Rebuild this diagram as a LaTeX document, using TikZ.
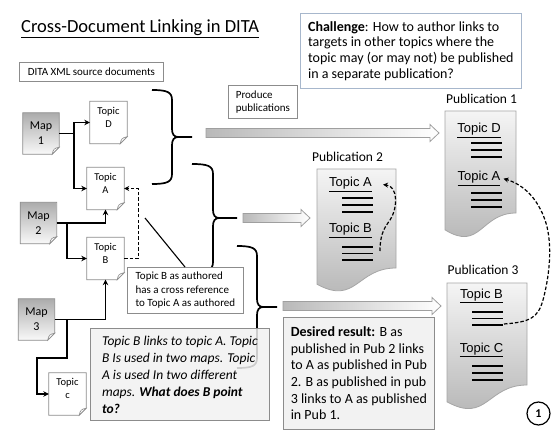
\documentclass[tikz,border=0pt]{standalone}
\usepackage{fontspec}
\setmainfont{Carlito}
\newfontfamily\arialf{Liberation Sans}
\usetikzlibrary{arrows.meta}
\pgfdeclarelayer{background}
\pgfsetlayers{background,main}
\definecolor{bordergray}{HTML}{8C8C8C}
\definecolor{chalblue}{HTML}{A7B7CC}
\definecolor{boxfill}{HTML}{F2F2F2}
\tikzset{
 plainbox/.style={draw=bordergray, line width=0.8pt, fill=white, anchor=north west, inner sep=0pt, align=left},
 mapnode/.style={minimum width=36pt, minimum height=41pt, inner sep=0pt, align=center, font=\fontsize{12}{15}\selectfont},
 topicnode/.style={minimum width=37pt, minimum height=42pt, inner sep=0pt, align=center, font=\fontsize{10.5}{13}\selectfont},
 mapfill/.style={draw=bordergray, line width=0.8pt, top color=gray!65, bottom color=gray!5},
 topicfill/.style={draw=bordergray, line width=0.8pt, fill=white},
 flap/.style={draw=bordergray, line width=0.6pt, fill=white},
 conn/.style={line width=1.6pt, -{Stealth[length=5.5pt,width=5.5pt]}},
 dashconn/.style={line width=1.2pt, dash pattern=on 3.5pt off 2pt, -{Stealth[length=5pt,width=5pt]}},
 bracestyle/.style={line width=1.7pt},
 blockarrow/.style={draw=gray!75, line width=0.8pt, left color=gray!55, right color=white},
 pubshape/.style={draw=gray!70, line width=0.8pt, top color=gray!8, bottom color=gray!60},
 publabel/.style={font=\fontsize{13.5}{16}\selectfont, anchor=base, inner sep=0pt},
 ptopic/.style={font=\arialf\fontsize{13}{15}\selectfont, anchor=base, inner sep=0pt},
 plines/.style={line width=1.4pt},
}
\newcommand\dogear[2]{%
 \begin{pgfonlayer}{background}
 \path[#2] (#1.north west) -- (#1.north east) -- ([yshift=7pt]#1.south east) -- ([xshift=-7pt]#1.south east) -- (#1.south west) -- cycle;
 \path[flap] ([yshift=7pt]#1.south east) .. controls ([xshift=-5pt,yshift=6pt]#1.south east) and ([xshift=-6pt,yshift=5pt]#1.south east) .. ([xshift=-7pt]#1.south east) -- cycle;
 \end{pgfonlayer}}
\newcommand\curlyR[6]{% xend xmid xtip ytop ytip ybot
 \draw[bracestyle] (#1,#4) .. controls (#2-5,#4) and (#2,#4+2) .. (#2,#4+10) -- (#2,#5-8) .. controls (#2,#5-3) and (#2+2,#5) .. (#2+6,#5) -- (#3,#5)
   (#2+6,#5) .. controls (#2+2,#5) and (#2,#5+3) .. (#2,#5+8) -- (#2,#6-10) .. controls (#2,#6-2) and (#2-5,#6) .. (#1,#6);}
\newcommand\blockarr[3]{% xstart xend y
 \path[blockarrow] (#1,#3-4.5) -- (#2-9,#3-4.5) -- (#2-9,#3-8.5) -- (#2,#3) -- (#2-9,#3+8.5) -- (#2-9,#3+4.5) -- (#1,#3+4.5) -- cycle;}
\newcommand\pubdoc[5]{% x1 top x2 yR h
 \pgfmathsetmacro\pbL{#2+0.934*#5}%
 \pgfmathsetmacro\pbC{#2+1.1075*#5}%
 \pgfmathsetmacro\pbM{(#1+#3)/2}%
 \path[pubshape] (#1,#2) -- (#3,#2) -- (#3,#4) .. controls (\pbM,#4) and (\pbM,\pbC) .. (#1,\pbL) -- cycle;}
\newcommand\threelines[4]{% x1 x2 y1 gap
 \draw[plines] (#1,#3) -- (#2,#3) (#1,#3+#4) -- (#2,#3+#4) (#1,#3+2*#4) -- (#2,#3+2*#4);}
\begin{document}
\begin{tikzpicture}[x=1pt,y=-1pt]
\begin{pgfonlayer}{background}
\fill[white] (0,0) rectangle (560,433);
\end{pgfonlayer}
\useasboundingbox (0,0) rectangle (560,433);

% title
\node[anchor=base west, inner sep=0pt, font=\fontsize{18.5}{20}\selectfont] (title) at (21,33) {\underline{Cross-Document Linking in DITA}};

% boxes
\node[plainbox, minimum width=144pt, minimum height=19pt, align=center, font=\fontsize{11}{13}\selectfont] (src) at (19,62) {DITA XML source documents};
\node[plainbox, draw=chalblue, minimum width=221pt, minimum height=75pt, font=\fontsize{14}{15.7}\selectfont] (chal) at (300,13) {\textbf{Challenge}: How to author links to\\targets in other topics where the\\topic may (or may not) be published\\in a separate publication?};
\node[plainbox, minimum width=69pt, minimum height=33pt, font=\fontsize{11}{13}\selectfont] (prod) at (228,85) {Produce\\publications};

% braces
\curlyR{152}{172}{192}{90}{137}{184}
\curlyR{192}{213}{237}{164}{218}{272}
\curlyR{237}{257}{277}{246}{307}{368}

% block arrows
\blockarr{206}{439}{133}
\blockarr{243}{310}{218}
\blockarr{283}{441}{306}

% maps and topics
\node[mapnode] (m1) at (41,133.5) {Map\\1};
\node[mapnode] (m2) at (38.5,223) {Map\\2};
\node[mapnode] (m3) at (36.5,319.5) {Map\\3};
\node[topicnode] (tD) at (108.5,122.5) {Topic\\D\\[-2pt]\mbox{}};
\node[topicnode] (tA) at (105.5,188.5) {Topic\\A\\[-2pt]\mbox{}};
\node[topicnode] (tB) at (105.5,258.5) {Topic\\B\\[-2pt]\mbox{}};
\node[topicnode] (tC) at (67.5,394) {Topic\\c\\[-2pt]\mbox{}};
\dogear{m1}{mapfill}
\dogear{m2}{mapfill}
\dogear{m3}{mapfill}
\dogear{tD}{topicfill}
\dogear{tA}{topicfill}
\dogear{tB}{topicfill}
\dogear{tC}{topicfill}

\coordinate (c3) at (37,358);
\draw[conn] (m1.east) -- ++(15,0) |- (tD.west);
\draw[conn] (m1.east) -- ++(15,0) |- (tA.west);
\draw[conn] (m2.east) -| (tA.south);
\draw[conn] ([xshift=10pt]m2.east) |- (tB.west);
\draw[conn] (m3.east) -| (tB.south);
\draw[conn] ([xshift=12pt]m3.east) |- (c3) |- (tC.west);
\draw[dashconn] (tB.east) -- ++(14,0) |- (tA.east);

% callout
\node[plainbox, minimum width=116pt, minimum height=46pt, font=\fontsize{11}{13.5}\selectfont] (call) at (127,267) {Topic B as authored\\has a cross reference\\to Topic A as authored};
\coordinate (cp) at (145,218);
\draw[line width=1.1pt] (cp) -- ([xshift=58pt]call.north west);

% question box
\node[plainbox, fill=boxfill, fill opacity=0.85, text opacity=1, minimum width=179pt, minimum height=92pt, font=\itshape\fontsize{13.5}{17}\selectfont] (quest) at (90,328) {Topic B links to topic A. Topic\\B Is used in two maps. Topic\\A is used In two different\\maps. \textbf{What does B point}\\\textbf{to?}};

% desired result
\node[plainbox, fill=boxfill, minimum width=151pt, minimum height=112pt, font=\fontsize{14}{16.6}\selectfont] (des) at (283,317) {\textbf{Desired result:} B as\\published in Pub 2 links\\to A as published in Pub\\2. B as published in pub\\3 links to A as published\\in Pub 1.};

% publications
\pubdoc{445}{111}{516}{213}{127.2}
\pubdoc{317}{169}{396}{268}{123.4}
\pubdoc{447}{283}{527}{385}{127.2}
\node[publabel] (pl1) at (481.5,104) {Publication 1};
\node[publabel] (pl2) at (347.5,162) {Publication 2};
\node[publabel] (pl3) at (483,274) {Publication 3};

\node[ptopic] (p1D) at (479,133) {\underline{Topic D}};
\node[ptopic] (p1A) at (479,181) {\underline{Topic A}};
\node[ptopic] (p2A) at (350.5,187) {\underline{Topic A}};
\node[ptopic] (p2B) at (350.5,233) {\underline{Topic B}};
\node[ptopic] (p3B) at (481.5,298) {\underline{Topic B}};
\node[ptopic] (p3C) at (481.5,352) {\underline{Topic C}};
\threelines{471}{502}{143}{7}
\threelines{471}{502}{193}{7}
\threelines{342}{373}{198}{7}
\threelines{342}{373}{247}{6.5}
\threelines{472}{503}{312}{6.5}
\threelines{472}{503}{366}{7}

\coordinate (d2s) at (380,251);
\coordinate (d3s) at (504,324);
\draw[dashconn] (d2s) .. controls (380,232) and (386,226) .. (390,220) .. controls (398,208) and (398,186) .. ([xshift=11pt]p2A.east);
\draw[dashconn] (d3s) .. controls (530,322) and (538,318) .. (543,300) .. controls (551,270) and (552,240) .. (545,220) .. controls (538,200) and (525,185) .. ([xshift=3pt]p1A.east);

\node[circle, draw, line width=1.2pt, minimum size=23pt, inner sep=0pt, font=\fontsize{12}{12}\selectfont\bfseries] (num) at (538.5,413.5) {1};
\end{tikzpicture}
\end{document}
